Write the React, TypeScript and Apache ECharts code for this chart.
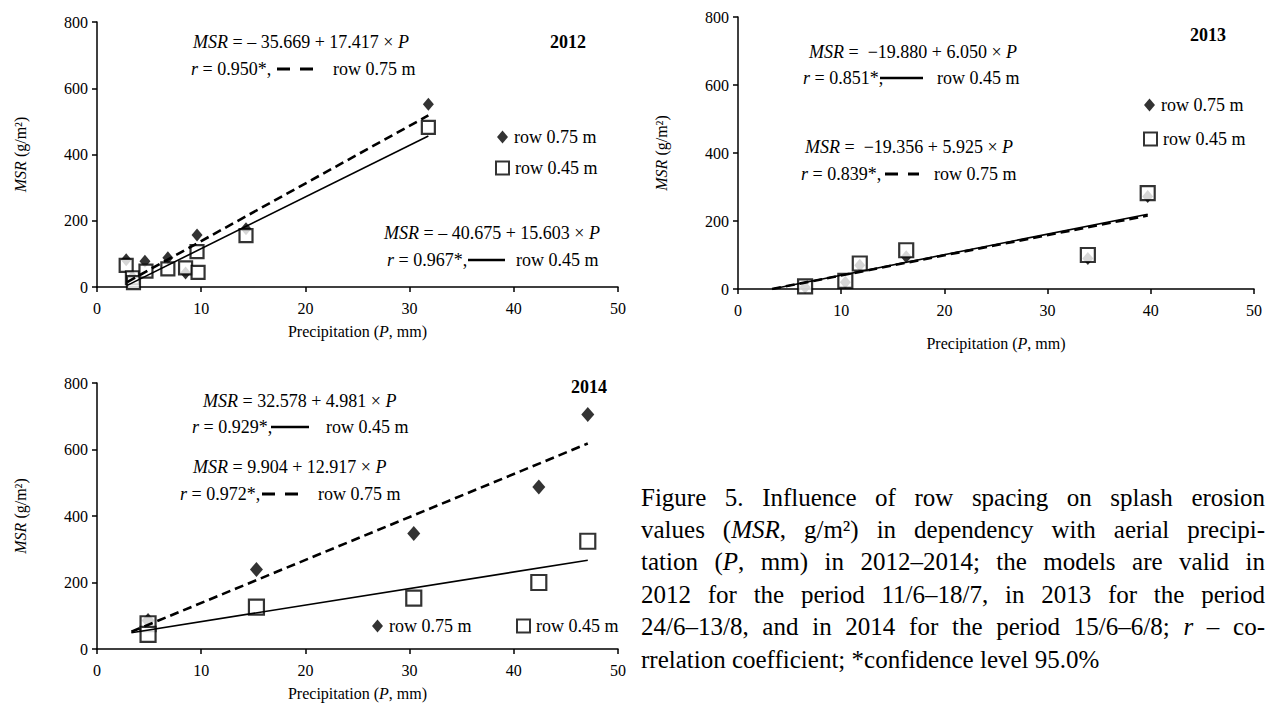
import React, { useEffect, useRef } from "react";
import * as echarts from "echarts";

// ---------- DATA ----------
const yearLabels = ["2012", "2013", "2014"];
const xTickInterval = 10;
const yTickInterval = 200;

// 2012
const p2012Row075 = [2.8, 3.4, 4.6, 6.8, 8.5, 9.6, 14.3, 31.8];
const msr2012Row075 = [82, 30, 78, 88, 42, 157, 176, 552];
const p2012Row045 = [2.8, 3.4, 3.5, 4.7, 6.8, 8.5, 9.6, 9.7, 14.3, 31.8];
const msr2012Row045 = [65, 28, 13, 48, 55, 58, 107, 44, 155, 482];
const fit2012Row075 = [[2.9, 15], [31.8, 518]];
const fit2012Row045 = [[2.9, 5], [31.8, 456]];

// 2013
const p2013Row075 = [6.5, 10.4, 11.8, 16.3, 33.9, 39.7];
const msr2013Row075 = [5, 20, 70, 95, 90, 272];
const p2013Row045 = [6.5, 10.4, 11.8, 16.3, 33.9, 39.7];
const msr2013Row045 = [8, 24, 75, 114, 100, 282];
const fit2013Row075 = [[3.3, 0], [39.7, 216]];
const fit2013Row045 = [[3.3, 0], [39.7, 220]];

// 2014
const p2014Row075 = [4.9, 15.3, 30.4, 42.4, 47.1];
const msr2014Row075 = [86, 239, 347, 487, 705];
const p2014Row045 = [4.9, 4.9, 15.3, 30.4, 42.4, 47.1];
const msr2014Row045 = [76, 44, 126, 153, 200, 324];
const fit2014Row075 = [[3.3, 52], [47.1, 618]];
const fit2014Row045 = [[3.3, 49], [47.1, 267]];

const equations2012 = ["{i|MSR} = – 35.669 + 17.417 × {i|P}", "{i|MSR} = – 40.675 + 15.603 × {i|P}"];
const rValues2012 = ["{i|r} = 0.950*,", "{i|r} = 0.967*,"];
const equations2013 = ["{i|MSR} =  −19.880 + 6.050 × {i|P}", "{i|MSR} =  −19.356 + 5.925 × {i|P}"];
const rValues2013 = ["{i|r} = 0.851*,", "{i|r} = 0.839*,"];
const equations2014 = ["{i|MSR} = 32.578 + 4.981 × {i|P}", "{i|MSR} = 9.904 + 12.917 × {i|P}"];
const rValues2014 = ["{i|r} = 0.929*,", "{i|r} = 0.972*,"];
const rowLabels = ["row 0.75 m", "row 0.45 m"];

const captionLines = [
  "Figure 5. Influence of row spacing on splash erosion",
  "values (_MSR_, g/m²) in dependency with aerial precipi-",
  "tation (_P_, mm) in 2012–2014; the models are valid in",
  "2012 for the period 11/6–18/7, in 2013 for the period",
  "24/6–13/8, and in 2014 for the period 15/6–6/8; _r_ – co-",
  "rrelation coefficient; *confidence level 95.0%",
];

// ---------- STYLE / LAYOUT ----------
const FONT = '"Liberation Serif", "Times New Roman", serif';
const BLACK = "#000";
const grids = [
  { left: 97, top: 22, width: 521, height: 265 },
  { left: 738, top: 17, width: 516, height: 272 },
  { left: 97, top: 383, width: 521, height: 266 },
];
const xNameGaps = [36, 46, 36];

const rich = (size: number) => ({
  i: { fontStyle: "italic", fontFamily: FONT, fontSize: size, fill: BLACK, color: BLACK },
  n: { fontFamily: FONT, fontSize: size, fill: BLACK, color: BLACK },
});

function textEl(x: number, y: number, text: string, size = 18, bold = false) {
  return {
    type: "text",
    x,
    y,
    silent: true,
    style: {
      text,
      fontFamily: FONT,
      fontSize: size,
      fontWeight: bold ? "bold" : "normal",
      fill: BLACK,
      verticalAlign: "middle",
      align: "left",
      rich: rich(size),
    },
  };
}

function sampleLine(x1: number, x2: number, y: number, dashed: boolean) {
  return {
    type: "line",
    silent: true,
    shape: { x1, y1: y, x2, y2: y },
    style: {
      stroke: BLACK,
      lineWidth: dashed ? 3 : 2.4,
      lineDash: dashed ? [13, 10] : null,
    },
  };
}

function buildCaption() {
  const left = 641;
  const right = 1265;
  const top = 497;
  const gap = 32.4;
  const size = 25;
  const ctx = document.createElement("canvas").getContext("2d")!;
  const measure = (t: string, it: boolean) => {
    ctx.font = `${it ? "italic " : ""}${size}px "Liberation Serif"`;
    return ctx.measureText(t).width;
  };
  const els: any[] = [];
  captionLines.forEach((line, li) => {
    const words = line.split(" ").map((w) => {
      const parts = w.split("_");
      let width = 0;
      let richText = "";
      parts.forEach((p, pi) => {
        if (!p) return;
        const it = pi % 2 === 1;
        width += measure(p, it);
        richText += `{${it ? "i" : "n"}|${p}}`;
      });
      return { width, richText };
    });
    const total = words.reduce((s, w) => s + w.width, 0);
    const last = li === captionLines.length - 1;
    const space = last ? measure(" ", false) : (right - left - total) / (words.length - 1);
    let x = left;
    const y = top + li * gap;
    words.forEach((w) => {
      els.push(textEl(x, y, w.richText, size));
      x += w.width + space;
    });
  });
  return els;
}

function axisPair(i: number) {
  const axisLine = { show: true, onZero: false, lineStyle: { color: BLACK, width: 1.5 } };
  const axisTick = { show: true, length: 5, lineStyle: { color: BLACK, width: 1.5 } };
  const label = { fontFamily: FONT, fontSize: 16, color: BLACK };
  return {
    x: {
      type: "value",
      gridIndex: i,
      min: 0,
      max: 50,
      interval: xTickInterval,
      axisLine,
      axisTick,
      splitLine: { show: false },
      axisLabel: { ...label, margin: 13 },
      name: "Precipitation ({i|P}, mm)",
      nameLocation: "middle",
      nameGap: xNameGaps[i],
      nameTextStyle: { ...label, rich: rich(16) },
    },
    y: {
      type: "value",
      gridIndex: i,
      min: 0,
      max: 800,
      interval: yTickInterval,
      axisLine,
      axisTick,
      splitLine: { show: false },
      axisLabel: { ...label, margin: 9 },
      name: "{i|MSR} (g/m²)",
      nameLocation: "middle",
      nameGap: 69,
      nameTextStyle: { ...label, rich: rich(16) },
    },
  };
}

const zip = (xs: number[], ys: number[]) => xs.map((x, k) => [x, ys[k]]);

function diamonds(gi: number, xs: number[], ys: number[], size: number[]) {
  return {
    type: "scatter",
    name: rowLabels[0],
    xAxisIndex: gi,
    yAxisIndex: gi,
    data: zip(xs, ys),
    symbol: "diamond",
    symbolSize: size,
    itemStyle: { color: BLACK },
    z: 2,
    silent: true,
  };
}
function squares(gi: number, xs: number[], ys: number[], size: number) {
  return {
    type: "scatter",
    name: rowLabels[1],
    xAxisIndex: gi,
    yAxisIndex: gi,
    data: zip(xs, ys),
    symbol: "rect",
    symbolSize: size,
    itemStyle: { color: "#fff", borderColor: BLACK, borderWidth: 2.2 },
    z: 3,
    silent: true,
  };
}
function fit(gi: number, name: string, pts: number[][], dashed: boolean) {
  return {
    type: "line",
    name,
    xAxisIndex: gi,
    yAxisIndex: gi,
    data: pts,
    symbol: "none",
    lineStyle: { color: BLACK, width: dashed ? 2.6 : 1.6, type: dashed ? [9, 5] : "solid" },
    z: 4,
    silent: true,
  };
}

function legendItem(left: number, cy: number, which: number) {
  const isDiamond = which === 0;
  return {
    show: true,
    left,
    top: cy - 10,
    padding: 0,
    orient: "horizontal",
    selectedMode: false,
    itemWidth: isDiamond ? 11 : 13,
    itemHeight: 13,
    itemGap: 0,
    textStyle: { fontFamily: FONT, fontSize: 18, color: BLACK, lineHeight: 20, padding: [0, 0, 0, 1] },
    data: [
      isDiamond
        ? { name: rowLabels[0], icon: "diamond", itemStyle: { color: BLACK } }
        : { name: rowLabels[1], icon: "rect", itemStyle: { color: "#fff", borderColor: BLACK, borderWidth: 2 } },
    ],
  };
}

export default function App() {
  const ref = useRef<HTMLDivElement>(null);
  useEffect(() => {
    document.body.style.margin = "0";
    const chart = echarts.init(ref.current!, null, { renderer: "svg" });
    const axes = [0, 1, 2].map(axisPair);
    const graphics: any[] = [
      // 2012
      textEl(193, 42, equations2012[0]),
      textEl(191, 69, rValues2012[0]),
      sampleLine(277, 314, 69, true),
      textEl(333, 69, rowLabels[0]),
      textEl(550, 42, yearLabels[0], 18, true),
      textEl(384, 233, equations2012[1]),
      textEl(387, 260, rValues2012[1]),
      sampleLine(468, 505, 260, false),
      textEl(516, 260, rowLabels[1]),
      // 2013
      textEl(809, 52, equations2013[0]),
      textEl(803, 78, rValues2013[0]),
      sampleLine(880, 923, 78, false),
      textEl(937, 78, rowLabels[1]),
      textEl(1190, 35, yearLabels[1], 18, true),
      textEl(805, 147, equations2013[1]),
      textEl(801, 174, rValues2013[1]),
      sampleLine(885, 919, 174, true),
      textEl(934, 174, rowLabels[0]),
      // 2014
      textEl(571, 387, yearLabels[2], 18, true),
      textEl(203, 401, equations2014[0]),
      textEl(192, 427, rValues2014[0]),
      sampleLine(271, 309, 427, false),
      textEl(326, 427, rowLabels[1]),
      textEl(193, 467, equations2014[1]),
      textEl(180, 494, rValues2014[1]),
      sampleLine(262, 298, 494, true),
      textEl(318, 494, rowLabels[0]),
      ...buildCaption(),
    ];
    chart.setOption({
      animation: false,
      backgroundColor: "#fff",
      textStyle: { fontFamily: FONT },
      grid: grids.map((g) => ({ ...g, containLabel: false })),
      xAxis: axes.map((a) => a.x),
      yAxis: axes.map((a) => a.y),
      legend: [
        legendItem(497, 137, 0),
        legendItem(495, 168, 1),
        legendItem(1144, 105, 0),
        legendItem(1143, 139, 1),
        legendItem(372, 626, 0),
        legendItem(516, 626, 1),
      ],
      series: [
        diamonds(0, p2012Row075, msr2012Row075, [11, 13]),
        squares(0, p2012Row045, msr2012Row045, 13),
        fit(0, "fit 2012 row 0.75 m", fit2012Row075, true),
        fit(0, "fit 2012 row 0.45 m", fit2012Row045, false),
        diamonds(1, p2013Row075, msr2013Row075, [11, 13]),
        squares(1, p2013Row045, msr2013Row045, 14),
        fit(1, "fit 2013 row 0.75 m", fit2013Row075, true),
        fit(1, "fit 2013 row 0.45 m", fit2013Row045, false),
        diamonds(2, p2014Row075, msr2014Row075, [13, 15]),
        squares(2, p2014Row045, msr2014Row045, 15),
        fit(2, "fit 2014 row 0.75 m", fit2014Row075, true),
        fit(2, "fit 2014 row 0.45 m", fit2014Row045, false),
      ],
      graphic: graphics,
    });
    return () => chart.dispose();
  }, []);
  return <div ref={ref} style={{ width: 1277, height: 711 }} />;
}
